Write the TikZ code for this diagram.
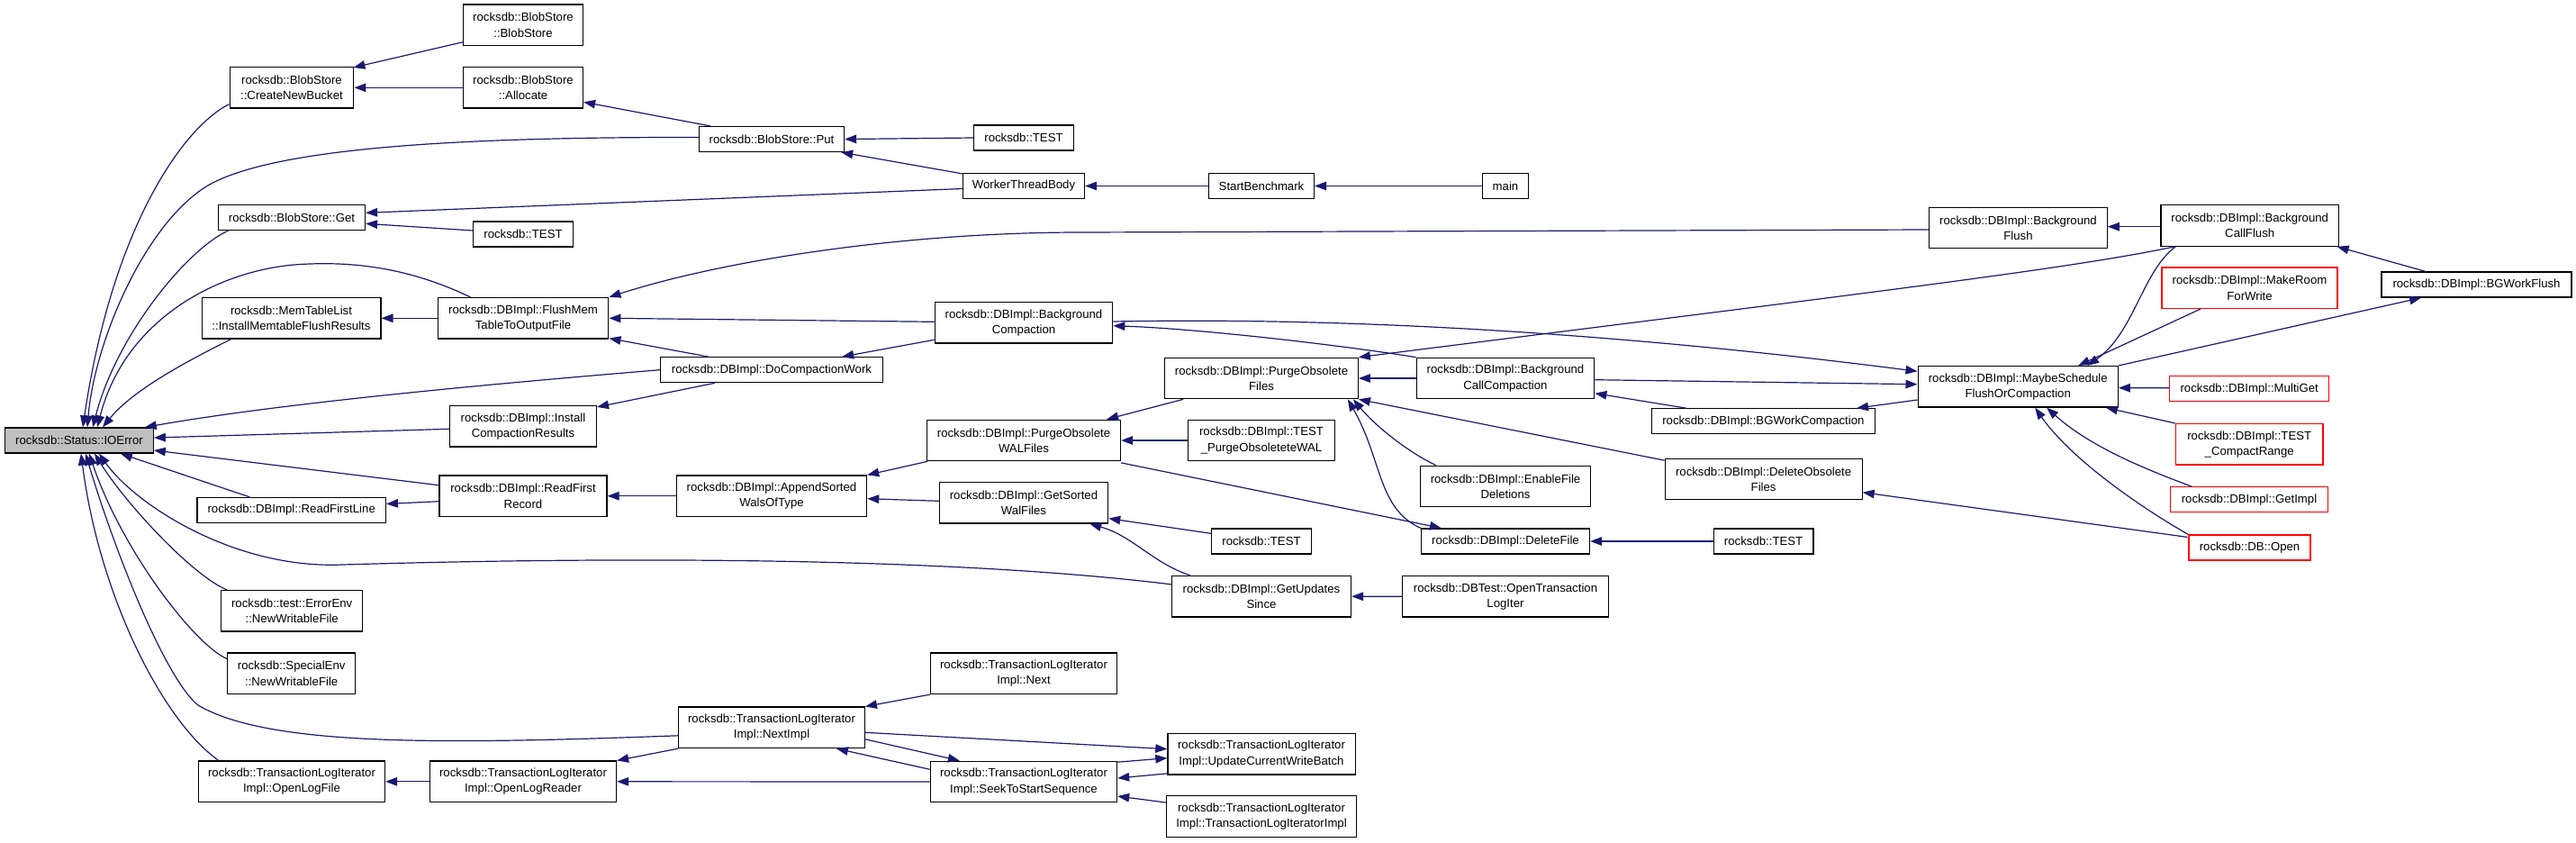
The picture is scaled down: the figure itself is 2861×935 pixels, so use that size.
\documentclass[tikz,border=0pt]{standalone}
\usepackage{fontspec}
\setmainfont{Liberation Sans}
\usetikzlibrary{arrows.meta,calc}
\definecolor{edgeblue}{HTML}{191970}
\definecolor{nodegray}{HTML}{BFBFBF}
\begin{document}
\begin{tikzpicture}[x=1pt,y=-1pt,
  nd/.style={draw=black, line width=1.2pt, fill=white, inner xsep=2pt, inner ysep=0pt, align=center, font=\fontsize{13.2}{17.3}\selectfont, minimum height=28pt},
  nd2/.style={nd, minimum height=45.5pt},
  rd/.style={draw=red},
  edge/.style={draw=edgeblue, line width=1.2pt, -{Triangle[length=13pt,width=9.5pt]}}]
\useasboundingbox (0,0) rectangle (2861,935);
% nodes
\node[nd, minimum width=164.5pt, fill=nodegray] (ioerr) at (88,489) {rocksdb::Status::IOError};
\node[nd2, minimum width=137.7pt] (cnb) at (324,97.3) {rocksdb::BlobStore\\::CreateNewBucket};
\node[nd, minimum width=163pt] (bsget) at (324,241.3) {rocksdb::BlobStore::Get};
\node[nd2, minimum width=198.8pt] (mtl) at (323.5,353.3) {rocksdb::MemTableList\\::InstallMemtableFlushResults};
\node[nd, minimum width=209.4pt] (rfl) at (323.7,566.5) {rocksdb::DBImpl::ReadFirstLine};
\node[nd2, minimum width=157pt] (errenv) at (324.2,678.3) {rocksdb::test::ErrorEnv\\::NewWritableFile};
\node[nd2, minimum width=142.3pt] (specenv) at (323.7,747.8) {rocksdb::SpecialEnv\\::NewWritableFile};
\node[nd2, minimum width=207.1pt] (olf) at (324,867.8) {rocksdb::TransactionLogIterator\\Impl::OpenLogFile};
\node[nd2, minimum width=133.1pt] (bsbs) at (581,27.8) {rocksdb::BlobStore\\::BlobStore};
\node[nd2, minimum width=133.1pt] (alloc) at (581,97.3) {rocksdb::BlobStore\\::Allocate};
\node[nd, minimum width=110.6pt] (testa) at (581,260) {rocksdb::TEST};
\node[nd2, minimum width=189.7pt] (flush) at (581,353.3) {rocksdb::DBImpl::FlushMem\\TableToOutputFile};
\node[nd2, minimum width=163pt] (icr) at (581,473.3) {rocksdb::DBImpl::Install\\CompactionResults};
\node[nd2, minimum width=186pt] (rfr) at (581,550.7) {rocksdb::DBImpl::ReadFirst\\Record};
\node[nd2, minimum width=207.1pt] (olr) at (581,867.8) {rocksdb::TransactionLogIterator\\Impl::OpenLogReader};
\node[nd, minimum width=161.2pt] (put) at (857,154.5) {rocksdb::BlobStore::Put};
\node[nd, minimum width=247.1pt] (dcw) at (857,410.7) {rocksdb::DBImpl::DoCompactionWork};
\node[nd2, minimum width=211.3pt] (aswt) at (857,550.7) {rocksdb::DBImpl::AppendSorted\\WalsOfType};
\node[nd2, minimum width=206.7pt] (nextimpl) at (857,807.8) {rocksdb::TransactionLogIterator\\Impl::NextImpl};
\node[nd, minimum width=110.7pt] (testb) at (1137,153) {rocksdb::TEST};
\node[nd, minimum width=135pt] (wtb) at (1137,206.5) {WorkerThreadBody};
\node[nd2, minimum width=197.5pt] (bgc) at (1137,358.3) {rocksdb::DBImpl::Background\\Compaction};
\node[nd2, minimum width=214.9pt] (powal) at (1137,489) {rocksdb::DBImpl::PurgeObsolete\\WALFiles};
\node[nd2, minimum width=187.3pt] (gswf) at (1137,558.3) {rocksdb::DBImpl::GetSorted\\WalFiles};
\node[nd2, minimum width=207.1pt] (next) at (1137,747.8) {rocksdb::TransactionLogIterator\\Impl::Next};
\node[nd2, minimum width=207.1pt] (seek) at (1137,868) {rocksdb::TransactionLogIterator\\Impl::SeekToStartSequence};
\node[nd, minimum width=116.8pt] (sb) at (1401,206.5) {StartBenchmark};
\node[nd2, minimum width=214.6pt] (pof) at (1401,420) {rocksdb::DBImpl::PurgeObsolete\\Files};
\node[nd2, minimum width=163.2pt] (tpow) at (1401,489) {rocksdb::DBImpl::TEST\\\_PurgeObsoleteteWAL};
\node[nd, minimum width=110.9pt] (testc) at (1401,601) {rocksdb::TEST};
\node[nd2, minimum width=199.1pt] (gus) at (1401,662.2) {rocksdb::DBImpl::GetUpdates\\Since};
\node[nd2, minimum width=208.2pt] (ucwb) at (1401,837.2) {rocksdb::TransactionLogIterator\\Impl::UpdateCurrentWriteBatch};
\node[nd2, minimum width=211.4pt] (tlii) at (1401,906.5) {rocksdb::TransactionLogIterator\\Impl::TransactionLogIteratorImpl};
\node[nd, minimum width=51pt] (main) at (1672,206.5) {main};
\node[nd2, minimum width=197.5pt] (bcc) at (1672,420) {rocksdb::DBImpl::Background\\CallCompaction};
\node[nd2, minimum width=189.2pt] (efd) at (1672,540) {rocksdb::DBImpl::EnableFile\\Deletions};
\node[nd, minimum width=186.9pt] (df) at (1672,601) {rocksdb::DBImpl::DeleteFile};
\node[nd2, minimum width=229.1pt] (dbtest) at (1672,662.3) {rocksdb::DBTest::OpenTransaction\\LogIter};
\node[nd2, minimum width=197.5pt] (bgf) at (2241.5,253) {rocksdb::DBImpl::Background\\Flush};
\node[nd, minimum width=248pt] (bgwc) at (1958.4,467.8) {rocksdb::DBImpl::BGWorkCompaction};
\node[nd2, minimum width=219pt] (dof) at (1958.6,532) {rocksdb::DBImpl::DeleteObsolete\\Files};
\node[nd, minimum width=110.6pt] (testd) at (1958.6,601) {rocksdb::TEST};
\node[nd2, minimum width=222.2pt] (msfc) at (2241.2,429.3) {rocksdb::DBImpl::MaybeSchedule\\FlushOrCompaction};
\node[nd2, minimum width=197.6pt] (bcf) at (2498.7,250.5) {rocksdb::DBImpl::Background\\CallFlush};
\node[nd2, rd, minimum width=195pt] (mrfw) at (2498.5,319.7) {rocksdb::DBImpl::MakeRoom\\ForWrite};
\node[nd, rd, minimum width=177.2pt] (multiget) at (2498.2,431.8) {rocksdb::DBImpl::MultiGet};
\node[nd2, rd, minimum width=163.6pt] (tcr) at (2498.2,493.3) {rocksdb::DBImpl::TEST\\\_CompactRange};
\node[nd, rd, minimum width=174.7pt] (getimpl) at (2498,554.7) {rocksdb::DBImpl::GetImpl};
\node[nd, rd, minimum width=135pt] (dbopen) at (2498.5,608) {rocksdb::DB::Open};
\node[nd, minimum width=211pt] (bgwf) at (2750.5,316) {rocksdb::DBImpl::BGWorkFlush};
% edges into IOError
\draw[edge] ($(cnb.south west)+(0,-5)$) .. controls (205,140) and (125,250) .. ($(ioerr.north)+(4,0)$);
\draw[edge] ($(put.west)+(0,-2)$) .. controls (500,152) and (300,165) .. (229.6,206.7) .. controls (160,250) and (105,380) .. ($(ioerr.north)+(9,0)$);
\draw[edge] ($(bsget.south west)+(12,0)$) .. controls (210,275) and (130,370) .. ($(ioerr.north)+(15,0)$);
\draw[edge] ($(flush.north west)+(37,0)$) .. controls (460,300) and (400,290) .. (337.5,293.3) .. controls (250,297) and (140,350) .. ($(ioerr.north)+(20,0)$);
\draw[edge] ($(mtl.south west)+(33,0)$) .. controls (220,395) and (150,430) .. ($(ioerr.north)+(26,0)$);
\draw[edge] (dcw.west) .. controls (500,430) and (300,450) .. ($(ioerr.north east)+(-10,0)$);
\draw[edge] ($(icr.west)+(0,3)$) -- ($(ioerr.east)+(0,-3)$);
\draw[edge] ($(rfr.north west)+(0,11.4)$) -- ($(ioerr.east)+(0,11)$);
\draw[edge] ($(rfl.north west)+(59,0)$) -- ($(ioerr.south east)+(-37,0)$);
\draw[edge] ($(gus.north west)+(0,10)$) .. controls (1000,612) and (550,622) .. (380,627) .. controls (260,632) and (150,560) .. ($(ioerr.south)+(22,0)$);
\draw[edge] ($(errenv.north west)+(7,0)$) .. controls (215,640) and (140,560) .. ($(ioerr.south)+(17,0)$);
\draw[edge] ($(specenv.north west)+(0,7)$) .. controls (215,715) and (135,610) .. ($(ioerr.south)+(11,0)$);
\draw[edge] ($(olf.north west)+(23,0)$) .. controls (180,800) and (110,660) .. ($(ioerr.south)+(2,0)$);
\draw[edge] ($(nextimpl.west)+(0,9)$) .. controls (500,826) and (300,830) .. (220,783) .. controls (185,755) and (130,620) .. ($(ioerr.south)+(7,0)$);
% other edges
\draw[edge] ($(bsbs.west)+(0,19)$) -- ($(cnb.north east)+(-1,1)$);
\draw[edge] (alloc.west) -- (cnb.east);
\draw[edge] ($(put.north west)+(13,0)$) -- ($(alloc.east)+(0,16)$);
\draw[edge] (testb.west) -- (put.east);
\draw[edge] ($(wtb.north west)+(0,1)$) -- ($(put.south east)+(-4,0)$);
\draw[edge] ($(wtb.west)+(0,3)$) -- ($(bsget.east)+(0,-5)$);
\draw[edge] ($(testa.west)+(0,-4)$) -- ($(bsget.east)+(0,7)$);
\draw[edge] (sb.west) -- (wtb.east);
\draw[edge] (main.west) -- (sb.east);
\draw[edge] ($(bgf.west)+(0,2)$) -- (1200,258) .. controls (1000,258) and (800,290) .. (flush.north east);
\draw[edge] ($(bgc.west)+(0,-1)$) -- (flush.east);
\draw[edge] ($(dcw.north west)+(54,0)$) -- ($(flush.south east)+(0,-1)$);
\draw[edge] (flush.west) -- (mtl.east);
\draw[edge] ($(dcw.south west)+(61,0)$) -- ($(icr.north east)+(0,2)$);
\draw[edge] ($(bgc.west)+(0,19)$) -- ($(dcw.north east)+(-46,0)$);
\draw[edge] ($(rfr.west)+(0,6)$) -- ($(rfl.east)+(0,-7)$);
\draw[edge] (aswt.west) -- (rfr.east);
\draw[edge] ($(powal.south west)+(1,0)$) -- (aswt.north east);
\draw[edge] ($(gswf.west)+(0,-2)$) -- ($(aswt.east)+(0,3)$);
\draw[edge] ($(pof.south west)+(21,0)$) -- ($(powal.north east)+(-16,0)$);
\draw[edge] (tpow.west) -- (powal.east);
\draw[edge] ($(testc.west)+(0,-8.7)$) -- ($(gswf.south east)+(0,-6)$);
\draw[edge] ($(gus.north west)+(21,0)$) .. controls (1280,625) and (1258,595) .. ($(gswf.south east)+(-21,0)$);
\draw[edge] (next.south west) -- (nextimpl.north east);
\draw[edge] ($(nextimpl.east)+(0,5.5)$) -- ($(ucwb.west)+(0,-5.5)$);
\draw[edge] ($(nextimpl.east)+(0,13)$) -- ($(seek.north west)+(33,0)$);
\draw[edge] ($(seek.west)+(0,-13.7)$) -- ($(nextimpl.south east)+(-32,0)$);
\draw[edge] ($(seek.north east)+(0,1.5)$) -- ($(ucwb.west)+(0,4.5)$);
\draw[edge] ($(ucwb.south west)+(0,-1.7)$) -- ($(seek.east)+(0,-4)$);
\draw[edge] ($(tlii.west)+(0,-15.5)$) -- ($(seek.east)+(0,16)$);
\draw[edge] (seek.west) -- (olr.east);
\draw[edge] (nextimpl.south west) -- (olr.north east);
\draw[edge] (olr.west) -- (olf.east);
\draw[edge] (dbtest.west) -- (gus.east);
\draw[edge] (bcc.north west) .. controls (1480,382) and (1330,365) .. ($(bgc.east)+(0,3.4)$);
\draw[edge] ($(bgc.east)+(0,-1.3)$) .. controls (1500,352) and (1800,370) .. ($(msfc.west)+(0,-17)$);
\draw[edge] ($(bcc.east)+(0,1.7)$) -- ($(msfc.west)+(0,-2.6)$);
\draw[edge] ($(msfc.west)+(0,14.7)$) -- ($(bgwc.north east)+(-21,0)$);
\draw[edge] ($(bgwc.north west)+(39,0)$) -- ($(bcc.east)+(0,16.7)$);
\draw[edge] (bcc.west) -- (pof.east);
\draw[edge] ($(bcf.south west)+(16,0)$) .. controls (2300,298) and (2100,322) .. (pof.north east);
\draw[edge] ($(dof.north west)+(0,2.5)$) -- (pof.south east);
\draw[edge] ($(efd.north west)+(18,0)$) .. controls (1560,500) and (1525,470) .. ($(pof.south east)+(-6,0)$);
\draw[edge] (df.north west) .. controls (1530,565) and (1535,510) .. ($(pof.south east)+(-12,0)$);
\draw[edge] ($(powal.south east)+(0,1.5)$) -- ($(df.north west)+(23,0)$);
\draw[edge] (testd.west) -- (df.east);
\draw[edge] ($(dbopen.north west)+(-1,3)$) -- ($(dof.east)+(0,14.7)$);
\draw[edge] (dbopen.north west) .. controls (2380,565) and (2300,510) .. ($(msfc.south)+(19,0)$);
\draw[edge] ($(getimpl.north west)+(24,0)$) .. controls (2380,520) and (2320,495) .. ($(msfc.south)+(32,0)$);
\draw[edge] (tcr.north west) -- ($(msfc.south east)+(-14,0)$);
\draw[edge] ($(multiget.west)+(0,-1)$) -- ($(msfc.east)+(0,1.4)$);
\draw[edge] ($(mrfw.south west)+(43.6,0)$) -- ($(msfc.north)+(67,0)$);
\draw[edge] ($(bcf.south west)+(17,0)$) .. controls (2380,300) and (2370,370) .. ($(msfc.north)+(77,0)$);
\draw[edge] (msfc.north east) -- ($(bgwf.south west)+(44.7,0)$);
\draw[edge] ($(bgwf.north west)+(49.5,0)$) -- ($(bcf.south east)+(-2.5,0)$);
\draw[edge] ($(bcf.west)+(0,1.2)$) -- ($(bgf.east)+(0,-1.3)$);
\end{tikzpicture}
\end{document}
